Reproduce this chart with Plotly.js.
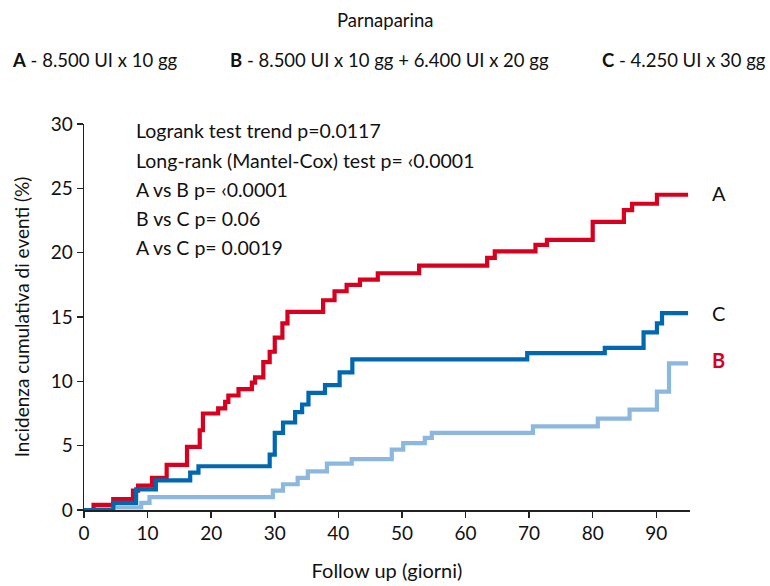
<!DOCTYPE html>
<html>
<head>
<meta charset="utf-8">
<script src="https://cdn.plot.ly/plotly-3.0.1.min.js"></script>
<style>html,body{margin:0;padding:0;background:#fff;}#chart{width:770px;height:586px;}</style>
</head>
<body>
<div id="chart"></div>
<script>
// Group A - red
const daysA = [0, 1.5, 4.6, 7.7, 8.5, 10.7, 13, 16.2, 18.2, 18.7, 21.1, 22.2, 22.7, 24.3, 26.4, 26.9, 28.2, 29.2, 30, 31.2, 32, 37.6, 39.4, 41.3, 43.4, 46.2, 52.7, 63.4, 64.6, 71, 72.8, 80, 84.9, 86.2, 90.1, 95];
const incA  = [0, 0.4, 0.85, 1.5, 1.9, 2.5, 3.5, 4.9, 6.2, 7.5, 7.9, 8.4, 8.9, 9.4, 9.9, 10.3, 11.5, 12.3, 13.4, 14.5, 15.4, 16.3, 17.0, 17.5, 17.9, 18.4, 19.0, 19.6, 20.1, 20.6, 21.0, 22.4, 23.3, 23.8, 24.5, 24.5];
// Group C - dark blue
const daysC = [0, 4.6, 8.2, 11.3, 16.7, 18, 29.2, 30, 31.3, 33.2, 34.3, 35.3, 37.9, 40.2, 42.2, 69.7, 81.9, 88, 90.1, 90.9, 95];
const incC  = [0, 0.55, 1.6, 2.3, 2.9, 3.4, 4.3, 6.0, 6.8, 7.6, 8.2, 9.1, 9.7, 10.7, 11.7, 12.2, 12.6, 13.8, 14.5, 15.3, 15.3];
// Group B - light blue
const daysB = [0, 2, 9, 10.3, 29.7, 31.3, 33.6, 35.2, 38.2, 42.1, 48.4, 50.2, 53.6, 54.7, 70.6, 80.8, 85.8, 90.1, 92, 95];
const incB  = [0, 0.2, 0.55, 1.0, 1.5, 2.0, 2.5, 3.0, 3.6, 3.95, 4.7, 5.2, 5.6, 6.0, 6.5, 7.1, 7.8, 9.2, 11.4, 11.4];

const xTicks = [0, 10, 20, 30, 40, 50, 60, 70, 80, 90];
const yTicks = [0, 5, 10, 15, 20, 25, 30];

const statLines = [
  "Logrank test trend p=0.0117",
  "Long-rank (Mantel-Cox) test p= \u20390.0001",
  "A vs B p= \u20390.0001",
  "B vs C p= 0.06",
  "A vs C p= 0.0019"
];
const headerTexts = [
  "<b>A</b> - 8.500 UI x 10 gg",
  "<b>B</b> - 8.500 UI x 10 gg + 6.400 UI x 20 gg",
  "<b>C</b> - 4.250 UI x 30 gg"
];

const RED = "#d7001f", DARK = "#0068b0", LIGHT = "#8cb8df";
const FONT = "Lato, 'Open Sans', sans-serif";

const mk = (x, y, c) => ({x: x, y: y, type: "scatter", mode: "lines",
  line: {shape: "hv", color: c, width: 4.2}, hoverinfo: "skip", showlegend: false});
const traces = [mk(daysB, incB, LIGHT), mk(daysA, incA, RED), mk(daysC, incC, DARK)];

const PLOT_L = 84, PLOT_W = 606, PLOT_T = 124, PLOT_H = 386;
const px2paperX = px => (px - PLOT_L) / PLOT_W;
const py2paperY = py => (PLOT_T + PLOT_H - py) / PLOT_H;

const annotations = [];
const statY = [131, 160, 189, 218, 247];
statLines.forEach((t, i) => annotations.push({
  text: t, xref: "paper", yref: "paper", x: px2paperX(134), y: py2paperY(statY[i]),
  xanchor: "left", yanchor: "middle", showarrow: false, font: {family: FONT, size: 19.5, color: "#111"}
}));
const headX = [10, 228, 600];
headerTexts.forEach((t, i) => annotations.push({
  text: t, xref: "paper", yref: "paper", x: px2paperX(headX[i]), y: py2paperY(60),
  xanchor: "left", yanchor: "middle", showarrow: false, font: {family: FONT, size: 18.5, color: "#111"}
}));
annotations.push({text: "Parnaparina", xref: "paper", yref: "paper", x: px2paperX(385), y: py2paperY(20),
  xanchor: "center", yanchor: "middle", showarrow: false, font: {family: FONT, size: 18.5, color: "#111"}});
const endLabels = [["A", 193, "#111"], ["C", 313, "#111"], ["<b>B</b>", 360, RED]];
endLabels.forEach(e => annotations.push({
  text: e[0], xref: "paper", yref: "paper", x: px2paperX(710), y: py2paperY(e[1]),
  xanchor: "left", yanchor: "middle", showarrow: false, font: {family: FONT, size: 20, color: e[2]}
}));

const layout = {
  width: 770, height: 586,
  margin: {l: PLOT_L, r: 770 - PLOT_L - PLOT_W, t: PLOT_T, b: 586 - PLOT_T - PLOT_H, pad: 0},
  paper_bgcolor: "#fff", plot_bgcolor: "#fff",
  font: {family: FONT, size: 19, color: "#111"},
  xaxis: {
    range: [0, 95.3], tickvals: xTicks, ticktext: xTicks.map(String),
    showline: true, linecolor: "#222", linewidth: 1.5, ticks: "outside", ticklen: 6, tickcolor: "#222", tickwidth: 1.5,
    showgrid: false, zeroline: false, tickfont: {family: FONT, size: 19, color: "#111"},
    title: {text: "Follow up (giorni)", font: {family: FONT, size: 20, color: "#111"}, standoff: 20}
  },
  yaxis: {
    range: [0, 30], tickvals: yTicks, ticktext: yTicks.map(String),
    showline: true, linecolor: "#222", linewidth: 1.5, ticks: "outside", ticklen: 6, tickcolor: "#222", tickwidth: 1.5,
    showgrid: false, zeroline: false, tickfont: {family: FONT, size: 19, color: "#111"},
    title: {text: "Incidenza cumulativa di eventi (%)", font: {family: FONT, size: 19, color: "#111"}, standoff: 16}
  },
  annotations: annotations
};

Plotly.newPlot("chart", traces, layout, {staticPlot: true, displayModeBar: false});
</script>
</body>
</html>
